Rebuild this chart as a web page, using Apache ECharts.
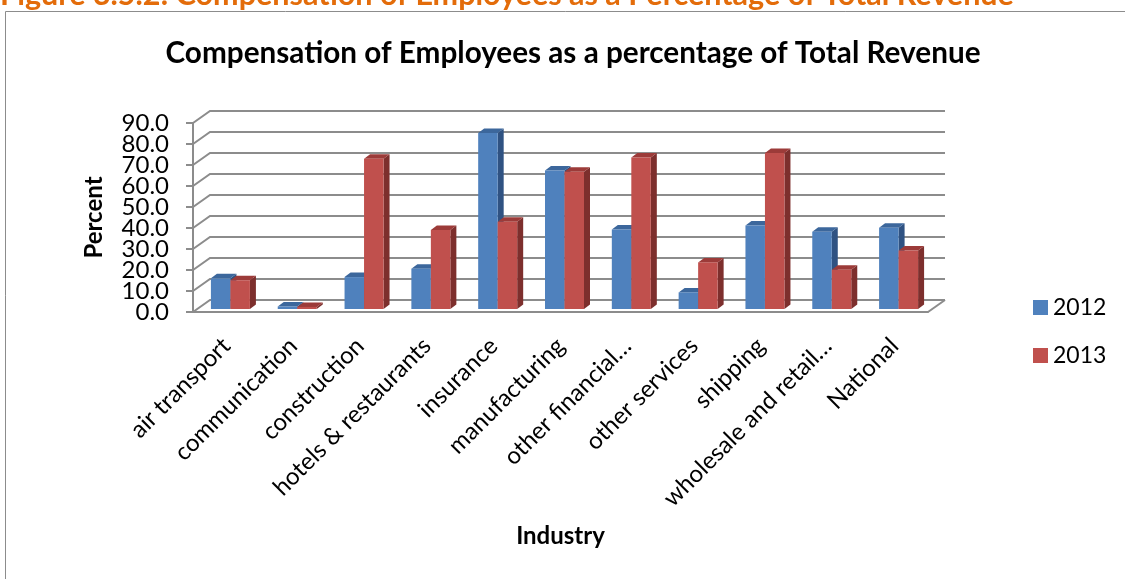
<!DOCTYPE html>
<html>
<head>
<meta charset="utf-8">
<script src="https://cdn.jsdelivr.net/npm/echarts@6/dist/echarts.min.js"></script>
<style>
html,body{margin:0;padding:0;background:#fff;}
#chart{width:1125px;height:579px;}
</style>
</head>
<body>
<div id="chart"></div>
<script>
var categories = ['air transport','communication','construction','hotels & restaurants','insurance','manufacturing','other financial\u2026','other services','shipping','wholesale and retail\u2026','National'];
var v2012 = [14.6, 1.2, 15.2, 19.2, 83.8, 66.0, 37.9, 7.9, 39.8, 36.8, 38.7];
var v2013 = [13.7, 1.0, 71.6, 37.6, 41.6, 65.4, 72.2, 22.2, 74.3, 18.7, 27.8];
var yTicks = [0, 10, 20, 30, 40, 50, 60, 70, 80, 90];
var yTickLabels = ['0.0', '10.0', '20.0', '30.0', '40.0', '50.0', '60.0', '70.0', '80.0', '90.0'];
var seriesNames = ['2012', '2013'];

var FONT = 'Lato';
var WALL_DX = 17, WALL_DY = -12;
var BAR_DX = 4, BAR_DY = -3;
var SIDE_DX = 6, SIDE_DY = -4.5;
var BAR_W = 19.5;
var palettes = [
  {front: '#4F81BD', side: '#2F5282', top: '#3C679C'},
  {front: '#C0504D', side: '#7D2F2D', top: '#9C3B39'}
];

function wallRender(params, api) {
  var cs = params.coordSys;
  var v = api.value(0);
  var y = api.coord([0, v])[1];
  var x0 = cs.x, x1 = cs.x + cs.width;
  var children = [{
    type: 'polyline',
    shape: {points: [[x0, y], [x0 + WALL_DX, y + WALL_DY], [x1 + WALL_DX, y + WALL_DY]]},
    style: {stroke: '#8C8C8C', lineWidth: 2, fill: null}
  }, {
    type: 'text',
    x: x0 - 24, y: y,
    style: {text: yTickLabels[params.dataIndex], font: '24px Lato', fill: '#000', align: 'right', verticalAlign: 'middle'}
  }];
  if (v === 0) {
    children.push({
      type: 'line',
      shape: {x1: x1, y1: y, x2: x1 + WALL_DX, y2: y + WALL_DY},
      style: {stroke: '#8C8C8C', lineWidth: 2}
    });
  }
  return {type: 'group', children: children};
}

function makeBarRender(sIdx) {
  return function (params, api) {
    var i = api.value(0), v = api.value(1);
    var base = api.coord([i, 0]);
    var topP = api.coord([i, v]);
    var left = base[0] + BAR_DX - BAR_W + sIdx * BAR_W;
    var right = left + BAR_W;
    var bottom = base[1] + BAR_DY;
    var top = topP[1] + BAR_DY;
    var p = palettes[sIdx];
    return {
      type: 'group',
      children: [
        {type: 'polygon', shape: {points: [[right, top], [right + SIDE_DX, top + SIDE_DY], [right + SIDE_DX, bottom + SIDE_DY], [right, bottom]]}, style: {fill: p.side}},
        {type: 'polygon', shape: {points: [[left, top], [left + SIDE_DX, top + SIDE_DY], [right + SIDE_DX, top + SIDE_DY], [right, top]]}, style: {fill: p.top}},
        {type: 'rect', shape: {x: left, y: top, width: BAR_W, height: bottom - top}, style: {fill: p.front}}
      ]
    };
  };
}

var chart = echarts.init(document.getElementById('chart'));
chart.setOption({
  animation: false,
  color: [palettes[0].front, palettes[1].front],
  title: {
    text: 'Compensation of Employees as a percentage of Total Revenue',
    left: 568, top: 33, textAlign: 'center',
    textStyle: {fontFamily: FONT, fontSize: 29.7, fontWeight: 'bold', color: '#000'}
  },
  graphic: [
    {type: 'rect', shape: {x: 5.5, y: 11.5, width: 1125, height: 600}, style: {fill: null, stroke: '#8C8C8C', lineWidth: 1}, z: -1},
    {type: 'text', x: 0, y: 11, style: {text: 'Figure 3.5.2: Compensation of Employees as a Percentage of Total Revenue', fill: '#E36C0A', font: 'bold 30.5px Lato', verticalAlign: 'bottom'}}
  ],
  legend: {
    data: seriesNames,
    orient: 'vertical', left: 1028, top: 291,
    itemWidth: 15, itemHeight: 15, itemGap: 25, icon: 'rect',
    textStyle: {fontFamily: FONT, fontSize: 23, color: '#000'}
  },
  grid: {left: 193, right: 197, top: 123, bottom: 267, containLabel: false},
  xAxis: {
    type: 'category', data: categories,
    name: 'Industry', nameLocation: 'middle', nameGap: 212,
    nameTextStyle: {fontFamily: FONT, fontSize: 24, fontWeight: 'bold', color: '#000'},
    axisLine: {lineStyle: {color: '#8C8C8C', width: 2}},
    axisTick: {length: 6, lineStyle: {color: '#8C8C8C', width: 2}},
    axisLabel: {rotate: 45, margin: 30, fontFamily: FONT, fontSize: 24, color: '#000', interval: 0},
    splitLine: {show: false}
  },
  yAxis: {
    type: 'value', min: 0, max: 90, interval: 10,
    name: 'Percent', nameLocation: 'middle', nameGap: 87,
    nameTextStyle: {fontFamily: FONT, fontSize: 24, fontWeight: 'bold', color: '#000'},
    axisLine: {show: true, lineStyle: {color: '#8C8C8C', width: 2}},
    axisTick: {show: true, length: 7, lineStyle: {color: '#8C8C8C', width: 2}},
    axisLabel: {show: false},
    splitLine: {show: false}
  },
  series: [
    {type: 'custom', name: 'walls', renderItem: wallRender, data: yTicks.map(function (t) { return [t]; }), z: 1, silent: true, encode: {y: 0}},
    {type: 'custom', name: seriesNames[0], renderItem: makeBarRender(0), itemStyle: {color: palettes[0].front}, data: categories.map(function (c, i) { return [i, v2012[i]]; }), z: 3},
    {type: 'custom', name: seriesNames[1], renderItem: makeBarRender(1), itemStyle: {color: palettes[1].front}, data: categories.map(function (c, i) { return [i, v2013[i]]; }), z: 4}
  ]
});
</script>
</body>
</html>
